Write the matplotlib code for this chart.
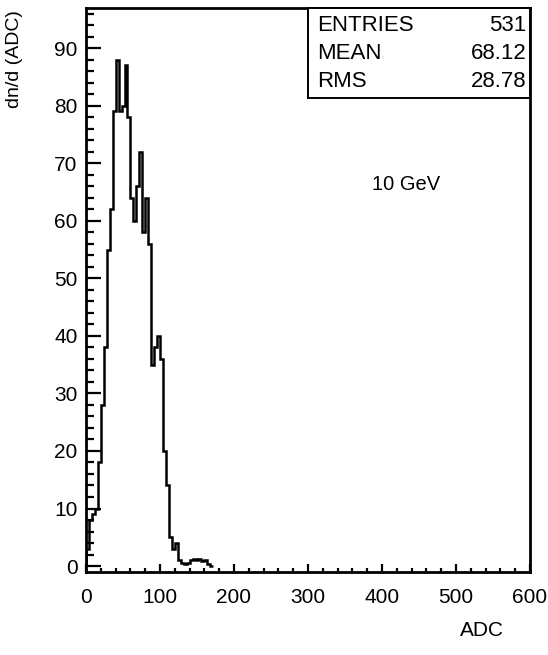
import numpy as np
import matplotlib
matplotlib.use("Agg")
import matplotlib.pyplot as plt
from matplotlib.ticker import MultipleLocator

plt.rcParams['font.family'] = ['Liberation Sans', 'DejaVu Sans']

# histogram (bin width 4 ADC)
bin_edges = np.arange(0, 176, 4)
counts = [3, 8, 9, 10, 18, 28, 38, 55, 62, 79,
          88, 79, 80, 87, 78, 64, 60, 66, 72, 58,
          64, 56, 35, 38, 40, 36, 20, 14, 5, 3,
          4, 1, 0.5, 0.3, 0.5, 1, 1.2, 1, 1.3, 0.8,
          1, 0.3, 0]

stat_names = ["ENTRIES", "MEAN", "RMS"]
stat_values = ["531", "68.12", "28.78"]

fig = plt.figure(figsize=(5.48, 6.55), dpi=100)
ax = fig.add_axes([0.157, 0.127, 0.81, 0.861])

ax.stairs(counts, bin_edges, color='black', linewidth=1.8)

ax.set_xlim(0, 600)
ax.set_ylim(-1, 97)
ax.xaxis.set_major_locator(MultipleLocator(100))
ax.xaxis.set_minor_locator(MultipleLocator(20))
ax.yaxis.set_major_locator(MultipleLocator(10))
ax.yaxis.set_minor_locator(MultipleLocator(2))
ax.tick_params(which='both', direction='in', labelsize=15, width=1.6)
ax.tick_params(axis='x', which='major', length=6, pad=12)
ax.tick_params(axis='x', which='minor', length=3)
ax.tick_params(axis='y', which='major', length=11, pad=6)
ax.tick_params(axis='y', which='minor', length=6)
for s in ax.spines.values():
    s.set_linewidth(2)

fig.text(0.027, 0.91, "dn/d (ADC)", rotation=90, ha='center', va='center', fontsize=14)
fig.text(0.88, 0.038, "ADC", ha='center', va='center', fontsize=15)

# stats box
box = fig.add_axes([0.562, 0.85, 0.405, 0.138])
box.set_xticks([])
box.set_yticks([])
for s in box.spines.values():
    s.set_linewidth(1.4)
for i, (n, v) in enumerate(zip(stat_names, stat_values)):
    yy = 0.8 - i * 0.31
    box.text(0.04, yy, n, ha='left', va='center', fontsize=16)
    box.text(0.985, yy, v, ha='right', va='center', fontsize=16)

ax.text(0.72, 0.687, "10 GeV", transform=ax.transAxes, ha='center', va='center', fontsize=14.5)

fig.savefig("out.png", dpi=100)
